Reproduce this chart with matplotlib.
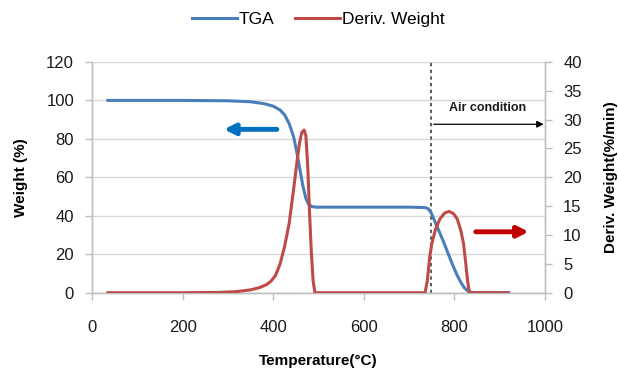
import matplotlib
matplotlib.use("Agg")
import matplotlib.pyplot as plt

plt.rcParams['font.family'] = ['Liberation Sans', 'DejaVu Sans']

tga_temp = [35, 100, 200, 300, 350, 380, 400, 415, 425, 435, 445, 452, 458, 465, 472,
            478, 485, 495, 600, 700, 735, 742, 748, 755, 765, 775, 785, 795, 805, 815,
            822, 830, 838, 850, 920]
tga_weight = [100, 100, 100, 99.8, 99.3, 98.3, 97, 95, 92.5, 88, 81, 73, 65, 56, 49,
              46, 44.8, 44.5, 44.5, 44.5, 44.3, 43.7, 41.8, 38, 32.5, 27, 21, 15, 9.5, 5,
              2.5, 0.8, 0.2, 0, 0]

dtg_temp = [35, 100, 200, 280, 320, 350, 370, 385, 395, 405, 415, 425, 435, 445, 452,
            458, 463, 468, 472, 476, 480, 484, 488, 492, 500, 600, 700, 735, 740, 745,
            750, 758, 768, 778, 788, 798, 806, 814, 820, 825, 829, 833, 850, 918]
dtg_value = [0, 0, 0, 0.05, 0.2, 0.5, 0.9, 1.4, 2, 3, 5, 8, 12, 18, 22.5,
             26, 27.8, 28.2, 27.2, 22, 14, 7, 2, 0, 0, 0, 0, 0, 2, 6,
             8.5, 11, 12.8, 13.8, 14.1, 13.7, 12.8, 10.8, 8.5, 5, 2, 0, 0, 0]

air_switch_temp = 748
x_ticks = [0, 200, 400, 600, 800, 1000]
left_ticks = [0, 20, 40, 60, 80, 100, 120]
right_ticks = [0, 5, 10, 15, 20, 25, 30, 35, 40]

blue = '#4a7ebb'
red = '#be4b48'
axis_gray = '#bfbfbf'
grid_gray = '#d9d9d9'

fig = plt.figure(figsize=(6.18, 3.71), dpi=100)
ax = fig.add_axes([0.149, 0.211, 0.733, 0.622])
ax2 = ax.twinx()

l1, = ax.plot(tga_temp, tga_weight, color=blue, lw=2.2, label='TGA', zorder=3)
l2, = ax2.plot(dtg_temp, dtg_value, color=red, lw=2.2, label='Deriv. Weight', zorder=3)

ax.set_xlim(0, 1000)
ax.set_ylim(0, 120)
ax2.set_ylim(0, 40)
ax.set_xticks(x_ticks)
ax.set_yticks(left_ticks)
ax2.set_yticks(right_ticks)

ax.yaxis.grid(True, color=grid_gray, lw=1)
ax.set_axisbelow(True)

for a in (ax, ax2):
    a.spines['top'].set_visible(False)
    for s in ('left', 'right', 'bottom'):
        a.spines[s].set_color(axis_gray)
        a.spines[s].set_linewidth(1)
    a.tick_params(colors=axis_gray, labelcolor='#1a1a1a', labelsize=12, length=5, width=1, pad=6)
ax.tick_params(axis='x', pad=15)
ax.tick_params(axis='y', pad=8)
ax2.tick_params(axis='y', pad=8)

ax.set_xlabel('Temperature(°C)', fontsize=11, fontweight='bold', labelpad=13)
ax.set_ylabel('Weight (%)', fontsize=11, fontweight='bold', labelpad=13)
ax2.set_ylabel('Deriv. Weight(%/min)', fontsize=11, fontweight='bold', labelpad=16)

ax.axvline(air_switch_temp, color='#404040', lw=1.2, ls=(0, (2, 2)), zorder=2)

ax2.annotate('', xy=(0.291, 0.708), xytext=(0.408, 0.708), xycoords='axes fraction',
             arrowprops=dict(arrowstyle='-|>', lw=3.5, color='#0070c0', mutation_scale=16,
                             shrinkA=0, shrinkB=0))
ax2.annotate('', xy=(0.964, 0.264), xytext=(0.847, 0.264), xycoords='axes fraction',
             arrowprops=dict(arrowstyle='-|>', lw=3.5, color='#c00000', mutation_scale=16,
                             shrinkA=0, shrinkB=0))
ax2.annotate('', xy=(0.997, 0.730), xytext=(0.754, 0.730), xycoords='axes fraction',
             arrowprops=dict(arrowstyle='-|>', lw=0.9, color='black', mutation_scale=10,
                             shrinkA=0, shrinkB=0))
ax2.text(0.873, 0.799, 'Air condition', transform=ax2.transAxes, fontsize=9,
         fontweight='bold', ha='center', va='center', color='#1a1a1a')

fig.legend(handles=[l1, l2], loc='center', bbox_to_anchor=(0.515, 0.948), ncol=2,
           frameon=False, fontsize=12.5, handlelength=2.6, handletextpad=0.1,
           columnspacing=1.2)

fig.savefig('out.png', dpi=100)
